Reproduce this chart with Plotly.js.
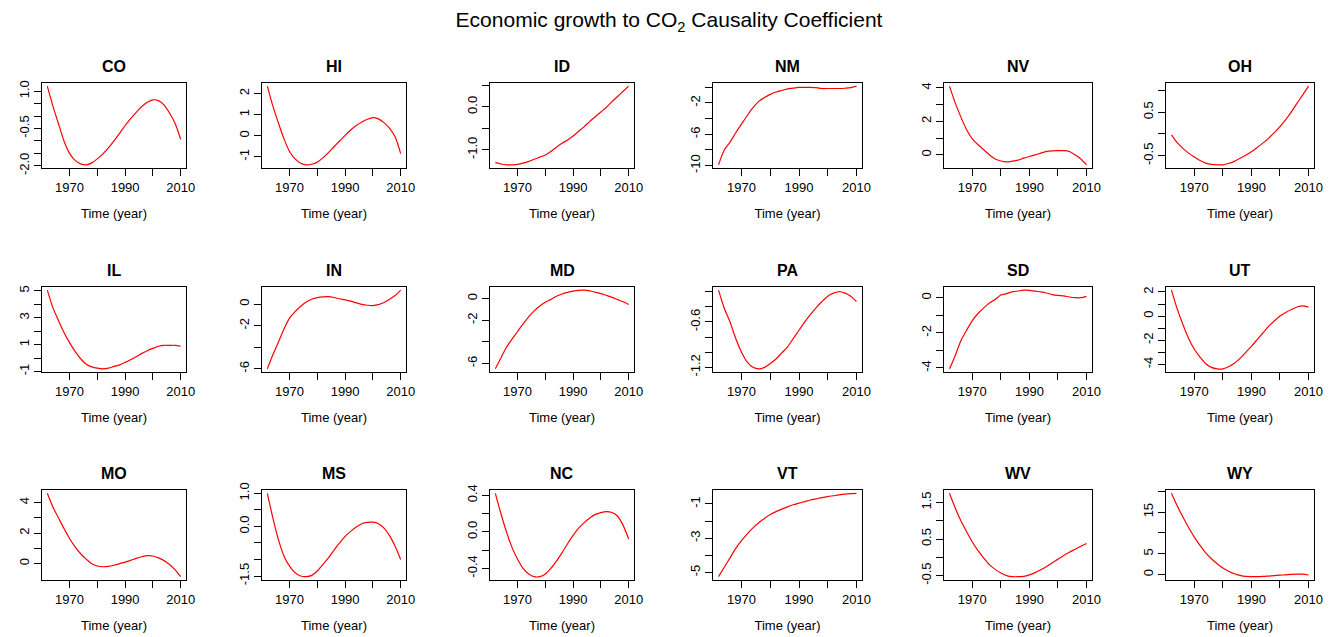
<!DOCTYPE html>
<html>
<head>
<meta charset="utf-8">
<script src="https://cdn.plot.ly/plotly-3.0.1.min.js"></script>
<style>html,body{margin:0;padding:0;background:#fff;}#chart{width:1338px;height:637px;}</style>
</head>
<body>
<div id="chart"></div>
<script>
// ---- data ----
const years = [1962,1964,1966,1968,1970,1972,1974,1976,1978,1980,1982,1984,1986,1988,1990,1992,1994,1996,1998,2000,2002,2004,2006,2008,2010];
const states = ['CO','HI','ID','NM','NV','OH','IL','IN','MD','PA','SD','UT','MO','MS','NC','VT','WV','WY'];

const CO = [1.2,0.4,-0.3,-1.0,-1.5,-1.78,-1.92,-1.96,-1.88,-1.72,-1.52,-1.28,-1.0,-0.7,-0.38,-0.1,0.15,0.38,0.55,0.65,0.62,0.45,0.12,-0.3,-0.93];
const HI = [2.35,1.4,0.6,-0.15,-0.75,-1.1,-1.3,-1.38,-1.35,-1.25,-1.05,-0.8,-0.52,-0.25,0.02,0.27,0.48,0.65,0.78,0.86,0.8,0.62,0.35,-0.05,-0.85];
const ID = [-1.3,-1.33,-1.35,-1.35,-1.34,-1.31,-1.27,-1.22,-1.17,-1.12,-1.04,-0.94,-0.85,-0.77,-0.68,-0.57,-0.46,-0.34,-0.23,-0.12,-0.01,0.12,0.24,0.36,0.48];
const NM = [-9.9,-8.0,-7.0,-5.8,-4.7,-3.6,-2.6,-1.8,-1.3,-0.9,-0.6,-0.4,-0.2,-0.1,0.0,0.0,0.0,-0.05,-0.15,-0.15,-0.15,-0.15,-0.12,-0.05,0.15];
const NV = [4.1,3.1,2.25,1.5,0.95,0.6,0.3,0.0,-0.25,-0.37,-0.42,-0.38,-0.32,-0.2,-0.1,0.0,0.1,0.2,0.24,0.25,0.25,0.2,0.0,-0.25,-0.6];
const OH = [-0.02,-0.2,-0.33,-0.44,-0.53,-0.61,-0.67,-0.7,-0.71,-0.71,-0.68,-0.63,-0.56,-0.49,-0.41,-0.31,-0.21,-0.1,0.03,0.17,0.33,0.51,0.71,0.9,1.1];
const IL = [5.05,3.75,2.8,1.9,1.15,0.5,-0.05,-0.45,-0.65,-0.75,-0.8,-0.75,-0.62,-0.5,-0.32,-0.12,0.1,0.35,0.55,0.72,0.88,0.95,0.95,0.95,0.88];
const IN = [-6.0,-4.7,-3.5,-2.3,-1.3,-0.7,-0.2,0.2,0.45,0.6,0.68,0.7,0.62,0.5,0.4,0.28,0.12,-0.02,-0.1,-0.13,-0.05,0.15,0.45,0.8,1.3];
const MD = [-6.5,-5.5,-4.5,-3.75,-3.05,-2.35,-1.7,-1.15,-0.7,-0.35,-0.08,0.2,0.42,0.57,0.68,0.75,0.77,0.7,0.58,0.45,0.28,0.1,-0.1,-0.3,-0.55];
const PA = [-0.18,-0.42,-0.6,-0.82,-1.0,-1.13,-1.2,-1.22,-1.2,-1.15,-1.09,-1.01,-0.93,-0.82,-0.71,-0.6,-0.5,-0.41,-0.33,-0.26,-0.22,-0.2,-0.22,-0.26,-0.33];
const SD = [-4.05,-3.3,-2.45,-1.85,-1.3,-0.9,-0.58,-0.3,-0.1,0.15,0.23,0.33,0.38,0.43,0.42,0.37,0.33,0.27,0.18,0.13,0.1,0.04,0.0,0.0,0.08];
const UT = [2.15,0.6,-0.7,-1.85,-2.75,-3.4,-3.95,-4.25,-4.37,-4.37,-4.2,-3.9,-3.5,-3.0,-2.5,-1.95,-1.4,-0.85,-0.4,0.0,0.3,0.55,0.75,0.85,0.75];
const MO = [4.6,3.7,3.0,2.3,1.65,1.1,0.65,0.3,0.0,-0.15,-0.2,-0.18,-0.1,0.0,0.1,0.22,0.35,0.45,0.52,0.5,0.38,0.2,-0.05,-0.4,-0.85];
const MS = [1.0,0.25,-0.4,-0.9,-1.2,-1.4,-1.5,-1.52,-1.48,-1.35,-1.15,-0.95,-0.72,-0.5,-0.3,-0.15,-0.02,0.08,0.12,0.13,0.08,-0.05,-0.28,-0.6,-1.0];
const NC = [0.42,0.2,0.0,-0.17,-0.3,-0.4,-0.46,-0.49,-0.49,-0.46,-0.4,-0.32,-0.23,-0.13,-0.04,0.04,0.1,0.15,0.19,0.21,0.22,0.21,0.17,0.07,-0.08];
const VT = [-5.25,-4.7,-4.15,-3.6,-3.15,-2.75,-2.4,-2.1,-1.85,-1.62,-1.45,-1.3,-1.17,-1.05,-0.95,-0.86,-0.77,-0.7,-0.63,-0.57,-0.52,-0.47,-0.43,-0.4,-0.38];
const WV = [1.75,1.35,1.0,0.7,0.42,0.18,-0.02,-0.2,-0.33,-0.43,-0.5,-0.53,-0.53,-0.52,-0.48,-0.42,-0.34,-0.25,-0.15,-0.05,0.05,0.14,0.22,0.3,0.38];
const WY = [19.5,16.5,13.8,11.3,9.0,7.0,5.2,3.8,2.6,1.6,0.8,0.2,-0.2,-0.45,-0.5,-0.5,-0.45,-0.35,-0.25,-0.15,-0.05,0.05,0.1,0.1,-0.1];

// x ticks
const xTickVals = [1970,1980,1990,2000,2010];
const xTickText = ['1970','','1990','','2010'];

// y ticks per panel
const CO_tv = [-2,-1.5,-1,-0.5,0,0.5,1];      const CO_tt = ['-2.0','','','-0.5','','','1.0'];
const HI_tv = [-1,0,1,2];                      const HI_tt = ['-1','0','1','2'];
const ID_tv = [-1,-0.5,0,0.5];                 const ID_tt = ['-1.0','','0.0',''];
const NM_tv = [-10,-8,-6,-4,-2,0];             const NM_tt = ['-10','','-6','','-2',''];
const NV_tv = [0,1,2,3,4];                     const NV_tt = ['0','','2','','4'];
const OH_tv = [-0.5,0,0.5,1];                  const OH_tt = ['-0.5','','0.5',''];
const IL_tv = [-1,0,1,2,3,4,5];                const IL_tt = ['-1','','1','','3','','5'];
const IN_tv = [-6,-4,-2,0];                    const IN_tt = ['-6','','-2','0'];
const MD_tv = [-6,-4,-2,0];                    const MD_tt = ['-6','','-2','0'];
const PA_tv = [-1.2,-1.0,-0.8,-0.6,-0.4,-0.2]; const PA_tt = ['-1.2','','','-0.6','',''];
const SD_tv = [-4,-3,-2,-1,0];                 const SD_tt = ['-4','','-2','','0'];
const UT_tv = [-4,-3,-2,-1,0,1,2];             const UT_tt = ['-4','','-2','','0','','2'];
const MO_tv = [0,1,2,3,4];                     const MO_tt = ['0','','2','','4'];
const MS_tv = [-1.5,-1,-0.5,0,0.5,1];          const MS_tt = ['-1.5','','','0.0','','1.0'];
const NC_tv = [-0.4,-0.2,0,0.2,0.4];           const NC_tt = ['-0.4','','0.0','','0.4'];
const VT_tv = [-5,-4,-3,-2,-1];                const VT_tt = ['-5','','-3','','-1'];
const WV_tv = [-0.5,0,0.5,1,1.5];              const WV_tt = ['-0.5','','0.5','','1.5'];
const WY_tv = [0,5,10,15,20];                  const WY_tt = ['0','5','','15',''];

const series = {CO,HI,ID,NM,NV,OH,IL,IN,MD,PA,SD,UT,MO,MS,NC,VT,WV,WY};
const tickv = {CO:CO_tv,HI:HI_tv,ID:ID_tv,NM:NM_tv,NV:NV_tv,OH:OH_tv,IL:IL_tv,IN:IN_tv,MD:MD_tv,PA:PA_tv,SD:SD_tv,UT:UT_tv,MO:MO_tv,MS:MS_tv,NC:NC_tv,VT:VT_tv,WV:WV_tv,WY:WY_tv};
const tickt = {CO:CO_tt,HI:HI_tt,ID:ID_tt,NM:NM_tt,NV:NV_tt,OH:OH_tt,IL:IL_tt,IN:IN_tt,MD:MD_tt,PA:PA_tt,SD:SD_tt,UT:UT_tt,MO:MO_tt,MS:MS_tt,NC:NC_tt,VT:VT_tt,WV:WV_tt,WY:WY_tt};

// ---- layout geometry (pixels) ----
const W = 1338, H = 637;
const colX = [[42,186],[262,406],[490,634],[713,862],[944,1092],[1166,1314]];
const rowY = [[83,168],[287,372],[490,580]];
const FONT = 'Liberation Sans, Arial, Helvetica, sans-serif';

const traces = [];
const layout = {
  width: W, height: H,
  margin: {l:0, r:0, t:0, b:0},
  paper_bgcolor: '#fff', plot_bgcolor: '#fff',
  showlegend: false,
  font: {family: FONT, color: '#000', size: 13},
  title: {text: 'Economic growth to CO<sub>2</sub> Causality Coefficient', x: 0.5, xanchor: 'center', y: 1 - 20/H, yanchor: 'middle', yref: 'container', font: {family: FONT, size: 21, color: '#000'}},
  annotations: []
};

const xmin = years[0], xmax = years[years.length-1];
const xpad = 0.04*(xmax-xmin);

states.forEach((s, i) => {
  const r = Math.floor(i/6), c = i % 6;
  const n = i + 1;
  const xa = 'xaxis' + (n === 1 ? '' : n);
  const ya = 'yaxis' + (n === 1 ? '' : n);
  const vals = series[s];
  const ymin = Math.min(...vals), ymax = Math.max(...vals);
  const ypad = 0.04*(ymax-ymin);
  traces.push({
    x: years, y: vals, type: 'scatter', mode: 'lines',
    line: {color: '#ff0000', width: 1.2, shape: 'spline', smoothing: 0.8},
    xaxis: 'x' + (n === 1 ? '' : n), yaxis: 'y' + (n === 1 ? '' : n),
    hoverinfo: 'skip'
  });
  const [x0, x1] = colX[c], [y0, y1] = rowY[r];
  layout[xa] = {
    domain: [x0/W, x1/W], anchor: 'y' + (n === 1 ? '' : n),
    range: [xmin - xpad, xmax + xpad],
    tickmode: 'array', tickvals: xTickVals, ticktext: xTickText,
    ticks: 'outside', ticklen: 7, tickwidth: 1, tickcolor: '#000',
    showline: true, linecolor: '#000', linewidth: 1, mirror: true,
    showgrid: false, zeroline: false,
    tickfont: {family: FONT, size: 13, color: '#000'},
    title: {text: 'Time (year)', font: {family: FONT, size: 13, color: '#000'}, standoff: 15}
  };
  layout[ya] = {
    domain: [1 - y1/H, 1 - y0/H], anchor: 'x' + (n === 1 ? '' : n),
    range: [ymin - ypad, ymax + ypad],
    tickmode: 'array', tickvals: tickv[s], ticktext: tickt[s],
    ticks: 'outside', ticklen: 7, tickwidth: 1, tickcolor: '#000',
    tickangle: -90,
    showline: true, linecolor: '#000', linewidth: 1, mirror: true,
    showgrid: false, zeroline: false,
    tickfont: {family: FONT, size: 13, color: '#000'}
  };
  layout.annotations.push({
    text: '<b>' + s + '</b>', xref: 'paper', yref: 'paper',
    x: (x0 + x1)/2/W, y: 1 - (y0 - 17)/H, xanchor: 'center', yanchor: 'middle',
    showarrow: false, font: {family: FONT, size: 16, color: '#000'}
  });
});

Plotly.newPlot('chart', traces, layout, {displayModeBar: false, staticPlot: true});
</script>
</body>
</html>
